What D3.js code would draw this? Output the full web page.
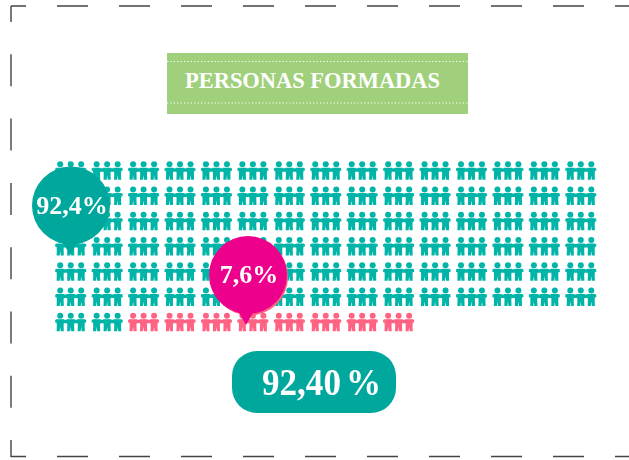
<!DOCTYPE html>
<html>
<head>
<meta charset="utf-8">
<script src="https://cdn.jsdelivr.net/npm/d3@7"></script>
<style>
  html, body { margin: 0; padding: 0; background: #fff; }
  text { font-family: "Liberation Serif", serif; }
</style>
</head>
<body>
<svg id="chart" width="629" height="460"></svg>
<script>
var titulo = "PERSONAS FORMADAS";
var categorias = ["Formadas", "Resto"];
var iconos = [92, 8];
var porcentajes = ["92,4%", "7,6%"];
var total = "92,40 %";
var colores = ["#00b5a8", "#ff6384"];
var coloresBurbuja = ["#00a79d", "#ec008c"];
var columnas = d3.range(15);
var filas = d3.range(7);

var svg = d3.select("#chart");

// marco discontinuo
svg.append("path").attr("d", "M11,6H629").attr("fill", "none").attr("stroke", "#444").attr("stroke-width", 1.4)
  .attr("stroke-dasharray", "31 31").attr("stroke-dashoffset", 16);
svg.append("path").attr("d", "M11,456.5H629").attr("fill", "none").attr("stroke", "#444").attr("stroke-width", 1.4)
  .attr("stroke-dasharray", "31 31").attr("stroke-dashoffset", 16);
svg.append("path").attr("d", "M11,6V457").attr("fill", "none").attr("stroke", "#444").attr("stroke-width", 1.4)
  .attr("stroke-dasharray", "32 32.3").attr("stroke-dashoffset", 16);

// cabecera
svg.append("rect").attr("x", 167).attr("y", 53).attr("width", 301).attr("height", 61).attr("fill", "#a0d07c");
[61.5, 103].forEach(function(y){
  svg.append("line").attr("x1", 167).attr("x2", 468).attr("y1", y).attr("y2", y)
    .attr("stroke", "#fff").attr("stroke-width", 1.2).attr("stroke-dasharray", "1.2 2.2");
});
svg.append("text").attr("x", 185).attr("y", 88).attr("fill", "#fff")
  .attr("font-size", 24).attr("font-weight", "bold").attr("textLength", 255).attr("lengthAdjust", "spacingAndGlyphs").text(titulo);

// parrilla de iconos
var xScale = d3.scaleBand().domain(columnas).range([52.5, 599]);
var yScale = d3.scaleBand().domain(filas).range([158, 335]);

var celdas = [];
categorias.forEach(function(c, i){
  d3.range(iconos[i]).forEach(function(){ celdas.push(i); });
});

var defs = svg.append("defs");
defs.append("filter").attr("id", "suave").attr("x", "-10%").attr("y", "-10%").attr("width", "120%").attr("height", "120%")
  .append("feGaussianBlur").attr("stdDeviation", 0.4);
var icono = defs.append("g").attr("id", "grupo");
[-10.5, 0, 10.5].forEach(function(dx){
  icono.append("circle").attr("cx", dx).attr("cy", -6.5).attr("r", 3);
  icono.append("path").attr("d", "M" + (dx-4) + ",-3H" + (dx+4) + "L" + (dx+3.4) + ",3L" + (dx+3.6) + ",9H" + (dx+0.5) + "L" + dx + ",4.5L" + (dx-0.5) + ",9H" + (dx-3.6) + "L" + (dx-3.4) + ",3Z");
});
icono.append("path").attr("d", "M-15.5,-2.5H15.5V0.2H12V1H-12V0.2H-15.5Z");

svg.append("g").attr("filter", "url(#suave)").selectAll("use")
  .data(celdas)
  .enter().append("use")
  .attr("href", "#grupo")
  .attr("x", function(d, i){ return xScale(i % 15) + xScale.bandwidth() / 2; })
  .attr("y", function(d, i){ return yScale(Math.floor(i / 15)) + yScale.bandwidth() / 2; })
  .attr("fill", function(d){ return colores[d]; });

// burbujas
function burbuja(cx, cy, r, tipX, tipY, color, label){
  var g = svg.append("g");
  g.append("circle").attr("cx", cx).attr("cy", cy).attr("r", r).attr("fill", color);
  g.append("path").attr("d", "M" + (tipX-8) + "," + (tipY-14) + "L" + tipX + "," + tipY + "L" + (tipX+8) + "," + (tipY-14) + "Z").attr("fill", color);
  g.append("text").attr("x", cx + 1).attr("y", cy + 8).attr("text-anchor", "middle").attr("fill", "#fff")
    .attr("font-size", 26).attr("font-weight", "bold").text(label);
}
burbuja(71, 205.5, 39, 70, 255, coloresBurbuja[0], porcentajes[0]);
// sombra rosa que asoma tras la burbuja
svg.append("circle").attr("cx", 249.5).attr("cy", 277).attr("r", 38.5).attr("fill", colores[1]);
burbuja(248, 275, 39, 246, 325, coloresBurbuja[1], porcentajes[1]);

// total
svg.append("rect").attr("x", 232).attr("y", 351).attr("width", 164).attr("height", 62).attr("rx", 25).attr("fill", coloresBurbuja[0]);
svg.append("text").attr("x", 262).attr("y", 395).attr("fill", "#fff").attr("word-spacing", -4)
  .attr("font-size", 37).attr("font-weight", "bold").attr("textLength", 119).attr("lengthAdjust", "spacingAndGlyphs").text(total);
</script>
</body>
</html>
